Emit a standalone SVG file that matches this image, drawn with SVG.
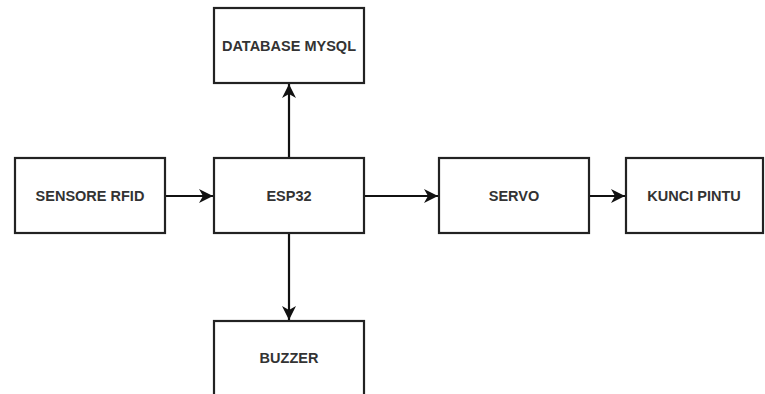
<svg xmlns="http://www.w3.org/2000/svg" width="765" height="394" viewBox="0 0 765 394">
<style>
.box{fill:#fff;stroke:#222;stroke-width:2.2}
.lbl{font-family:"Liberation Sans",Arial,sans-serif;font-weight:bold;font-size:14.5px;fill:#333;text-anchor:middle;dominant-baseline:central}
.edge{stroke:#111;stroke-width:2.2;fill:none;marker-end:url(#arr)}
</style>
<defs>
<marker id="arr" markerUnits="userSpaceOnUse" markerWidth="16" markerHeight="14" refX="14" refY="7" orient="auto">
<path d="M0,0 L14,7 L0,14 L4,7 Z" fill="#111"/>
</marker>
</defs>
<rect width="765" height="394" fill="#fff"/>
<g id="connectors">
<path class="edge" d="M165,196 H213"/>
<path class="edge" d="M289,158 V84"/>
<path class="edge" d="M289,233 V320"/>
<path class="edge" d="M364,196 H438"/>
<path class="edge" d="M589,196 H625"/>
</g>
<g id="database"><rect class="box" x="214" y="8" width="150" height="75"/><text class="lbl" x="289" y="45.5">DATABASE MYSQL</text></g>
<g id="sensor"><rect class="box" x="15" y="158" width="150" height="75"/><text class="lbl" x="90" y="196">SENSORE RFID</text></g>
<g id="esp32"><rect class="box" x="214" y="158" width="150" height="75"/><text class="lbl" x="289" y="196">ESP32</text></g>
<g id="servo"><rect class="box" x="439" y="158" width="150" height="75"/><text class="lbl" x="514" y="196">SERVO</text></g>
<g id="kunci"><rect class="box" x="626" y="158" width="137" height="75"/><text class="lbl" x="694" y="196">KUNCI PINTU</text></g>
<g id="buzzer"><rect class="box" x="214" y="321" width="150" height="76"/><text class="lbl" x="289" y="358">BUZZER</text></g>
</svg>
